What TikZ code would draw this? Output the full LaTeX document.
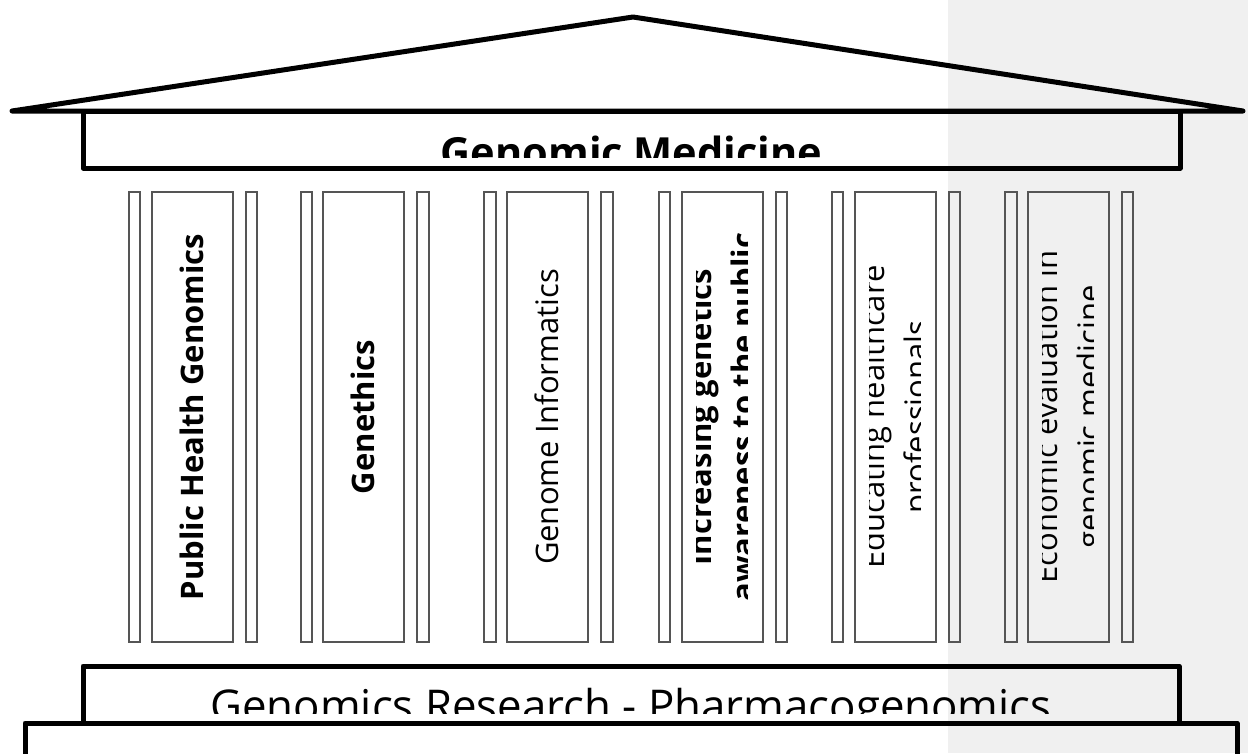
\documentclass[tikz,border=0pt]{standalone}
\usepackage{fontspec}
\setmainfont{Open Sans}
\usetikzlibrary{fit}
\definecolor{bggray}{HTML}{F0F0F0}
\definecolor{colline}{HTML}{555555}
\begin{document}
\begin{tikzpicture}[x=1pt,y=-1pt,
  heavy/.style={line width=5pt, line join=round, line cap=round, draw=black},
  col/.style={draw=colline, line width=1.1pt, inner sep=0pt},
  ptxt/.style={rotate=90, anchor=base, inner sep=0pt, font=\fontsize{31}{43}\selectfont},
  bandtxt/.style={anchor=base, inner sep=0pt}
]
\useasboundingbox (0,0) rectangle (1248,753);
\fill[white] (0,0) rectangle (1248,753);
\fill[bggray] (948,0) rectangle (1248,753);

% roof
\coordinate (roofL) at (12,111);
\coordinate (roofT) at (633,17);
\coordinate (roofR) at (1243,111);
\draw[heavy] (roofL) -- (roofT) -- (roofR) -- cycle;

% architrave
\node[heavy, fit={(83,111) (1180,168)}, inner sep=0pt] (arch) {};
\begin{scope}
  \clip (93,121) rectangle (1170,157.5);
  \node[bandtxt, font=\bfseries\fontsize{41.5}{50}\selectfont] (archtxt) at (631.5,167) {Genomic Medicine};
\end{scope}

% pillars: bar, shaft, bar
\newcommand\pillarframe[7]{%
  \node[col, fit={(#1,192) (#2,642)}] (#7a) {};
  \node[col, fit={(#3,192) (#4,642)}] (#7b) {};
  \node[col, fit={(#5,192) (#6,642)}] (#7c) {};}
% one line of text: center, name, text
\newcommand\pillarone[3]{%
  \begin{scope}
    \clip ({#1-26},193) rectangle ({#1+24.5},641);
    \node[ptxt] (#2t) at ({#1+10.5},417) {#3};
  \end{scope}}
% two lines of text: center, name, line 1, line 2
\newcommand\pillartwo[4]{%
  \begin{scope}
    \clip ({#1-26},193) rectangle ({#1+24.5},641);
    \node[ptxt] (#2t) at ({#1-11.5},417) {#3};
    \node[ptxt] (#2u) at ({#1+31.5},417) {#4};
  \end{scope}}

\pillarframe{129}{140}{152}{233}{246}{257}{pa}
\pillarframe{301}{312}{323}{404}{417}{429}{pb}
\pillarframe{484}{496}{507}{588}{601}{613}{pc}
\pillarframe{659}{670}{682}{763}{776}{787}{pd}
\pillarframe{832}{843}{855}{936}{949}{960}{pe}
\pillarframe{1005}{1017}{1028}{1109}{1122}{1133}{pf}

\pillarone{192.5}{pa}{\bfseries Public Health Genomics}
\pillarone{363.5}{pb}{\bfseries Genethics}
\pillarone{547.5}{pc}{Genome Informatics}
\pillartwo{722.5}{pd}{\bfseries Increasing genetics}{\bfseries awareness to the public}
\pillartwo{895.5}{pe}{Educating healthcare}{professionals}
\pillartwo{1068.5}{pf}{Economic evaluation in}{genomic medicine}

% base
\node[heavy, fit={(83,666) (1179,723)}, inner sep=0pt] (stylo) {};
\begin{scope}
  \clip (93,676) rectangle (1169,713);
  \node[bandtxt, font=\fontsize{43.8}{52}\selectfont] (stylotxt) at (631,721) {Genomics Research - Pharmacogenomics};
\end{scope}
\node[heavy, fit={(25,723) (1237,775)}, inner sep=0pt] (plinth) {};
\end{tikzpicture}
\end{document}
